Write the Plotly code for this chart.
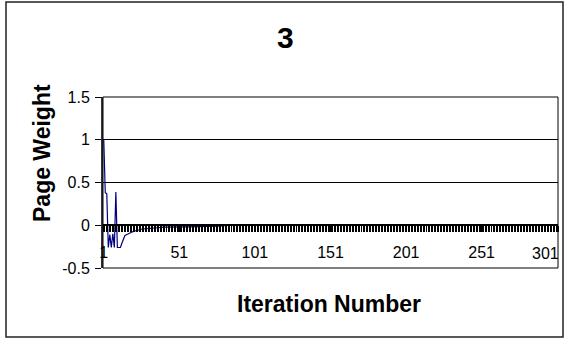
import plotly.graph_objects as go

# ---- data ----
iterations = list(range(1, 302))
page_weight = [
    1.0, 0.38, 0.37, -0.26, -0.11, -0.26, -0.10, -0.26, 0.39, -0.26,
    -0.26, -0.26, -0.21, -0.16, -0.12, -0.11, -0.10, -0.09, -0.083, -0.077,
    -0.07, -0.064, -0.058, -0.054, -0.05, -0.047, -0.044, -0.042, -0.04, -0.038,
    -0.036, -0.034, -0.032, -0.031, -0.03, -0.028, -0.027, -0.026, -0.025, -0.024,
    -0.023, -0.023, -0.022, -0.022, -0.021, -0.021, -0.02, -0.02, -0.02, -0.02,
    -0.019, -0.019, -0.019, -0.018, -0.018, -0.018, -0.018, -0.017, -0.017, -0.017,
    -0.017, -0.016, -0.016, -0.016, -0.016, -0.016, -0.015, -0.015, -0.015, -0.015,
    -0.015, -0.015, -0.014, -0.014, -0.014, -0.013, -0.01, -0.008, -0.006, -0.005,
    -0.004, -0.003, -0.002, -0.001, -0.001, 0.0, 0.0, 0.0, 0.0, 0.0,
    0.0, 0.0, 0.0, 0.0, 0.0, 0.0, 0.0, 0.0, 0.0, 0.0,
    0.0, 0.0, 0.0, 0.0, 0.0, 0.0, 0.0, 0.0, 0.0, 0.0,
    0.0, 0.0, 0.0, 0.0, 0.0, 0.0, 0.0, 0.0, 0.0, 0.0,
    0.0, 0.0, 0.0, 0.0, 0.0, 0.0, 0.0, 0.0, 0.0, 0.0,
    0.0, 0.0, 0.0, 0.0, 0.0, 0.0, 0.0, 0.0, 0.0, 0.0,
    0.0, 0.0, 0.0, 0.0, 0.0, 0.0, 0.0, 0.0, 0.0, 0.0,
    0.0, 0.0, 0.0, 0.0, 0.0, 0.0, 0.0, 0.0, 0.0, 0.0,
    0.0, 0.0, 0.0, 0.0, 0.0, 0.0, 0.0, 0.0, 0.0, 0.0,
    0.0, 0.0, 0.0, 0.0, 0.0, 0.0, 0.0, 0.0, 0.0, 0.0,
    0.0, 0.0, 0.0, 0.0, 0.0, 0.0, 0.0, 0.0, 0.0, 0.0,
    0.0, 0.0, 0.0, 0.0, 0.0, 0.0, 0.0, 0.0, 0.0, 0.0,
    0.0, 0.0, 0.0, 0.0, 0.0, 0.0, 0.0, 0.0, 0.0, 0.0,
    0.0, 0.0, 0.0, 0.0, 0.0, 0.0, 0.0, 0.0, 0.0, 0.0,
    0.0, 0.0, 0.0, 0.0, 0.0, 0.0, 0.0, 0.0, 0.0, 0.0,
    0.0, 0.0, 0.0, 0.0, 0.0, 0.0, 0.0, 0.0, 0.0, 0.0,
    0.0, 0.0, 0.0, 0.0, 0.0, 0.0, 0.0, 0.0, 0.0, 0.0,
    0.0, 0.0, 0.0, 0.0, 0.0, 0.0, 0.0, 0.0, 0.0, 0.0,
    0.0, 0.0, 0.0, 0.0, 0.0, 0.0, 0.0, 0.0, 0.0, 0.0,
    0.0, 0.0, 0.0, 0.0, 0.0, 0.0, 0.0, 0.0, 0.0, 0.0,
    0.0, 0.0, 0.0, 0.0, 0.0, 0.0, 0.0, 0.0, 0.0, 0.0,
    0.0, 0.0, 0.0, 0.0, 0.0, 0.0, 0.0, 0.0, 0.0, 0.0,
    0.0,
]
x_tick_vals = [1, 51, 101, 151, 201, 251, 301]
x_tick_text = ["1", "51", "101", "151", "201", "251", "301"]
y_tick_vals = [-0.5, 0, 0.5, 1, 1.5]
y_tick_text = ["-0.5", "0", "0.5", "1", "1.5"]
title_text = "3"
x_title = "Iteration Number"
y_title = "Page Weight"

# ---- layout geometry (pixels) ----
W, H = 568, 339
ML, MR, MT, MB = 103, 10, 97, 71
PW, PH = W - ML - MR, H - MT - MB
FONT = "Liberation Sans, Arial, sans-serif"


def px(xp):
    return (xp - ML) / PW


def py(yp):
    return (H - MB - yp) / PH


# the last category label is pulled inside the chart frame (as the reference does)
axis_labels = x_tick_text[:-1] + [""]
last_label = x_tick_text[-1]
last_val = x_tick_vals[-1]

fig = go.Figure()
fig.add_trace(go.Scatter(
    x=iterations, y=page_weight, mode="lines",
    line=dict(color="#000080", width=1.2),
    hoverinfo="skip", showlegend=False,
))

fig.update_layout(
    width=W, height=H,
    margin=dict(l=ML, r=MR, t=MT, b=MB, autoexpand=False),
    paper_bgcolor="white", plot_bgcolor="white",
    font=dict(family=FONT, size=16, color="black"),
    showlegend=False,
    xaxis=dict(
        range=[0.5, 301.5], anchor="free", position=0.25,
        showgrid=False, zeroline=False,
        showline=True, linecolor="black", linewidth=1.5,
        tickmode="array", tickvals=x_tick_vals, ticktext=axis_labels,
        ticks="outside", ticklen=6, tickwidth=1, tickcolor="black",
        ticklabelstandoff=7, ticklabeloverflow="allow",
        tickfont=dict(family=FONT, size=16, color="black"),
        minor=dict(ticks="outside", ticklen=6, tickwidth=1, tickcolor="black",
                   tick0=0.5, dtick=1, showgrid=False),
    ),
    yaxis=dict(
        range=[-0.5, 1.5],
        tickmode="array", tickvals=y_tick_vals, ticktext=y_tick_text,
        showgrid=True, gridcolor="black", gridwidth=1,
        zeroline=False,
        showline=True, linecolor="#333333", linewidth=2,
        ticks="outside", ticklen=6, tickwidth=1, tickcolor="black",
        ticklabelstandoff=2,
        tickfont=dict(family=FONT, size=16, color="black"),
    ),
    shapes=[
        dict(type="rect", xref="paper", yref="paper", x0=0, x1=1, y0=0, y1=1,
             line=dict(color="black", width=1), layer="above"),
        dict(type="rect", xref="paper", yref="paper",
             x0=px(6), x1=px(563), y0=py(337), y1=py(2),
             line=dict(color="#222222", width=1.5), layer="above"),
    ],
    annotations=[
        dict(text=last_label, x=last_val, xref="x", y=py(253), yref="paper",
             showarrow=False, xanchor="right", yanchor="middle", xshift=4,
             font=dict(family=FONT, size=16, color="black")),
        dict(text="<b>%s</b>" % title_text, x=px(285), y=py(38),
             xref="paper", yref="paper", showarrow=False,
             xanchor="center", yanchor="middle",
             font=dict(family=FONT, size=30, color="black")),
        dict(text="<b>%s</b>" % x_title, x=px(329), y=py(304),
             xref="paper", yref="paper", showarrow=False,
             xanchor="center", yanchor="middle",
             font=dict(family=FONT, size=23, color="black")),
        dict(text="<b>%s</b>" % y_title, x=px(42), y=py(153),
             xref="paper", yref="paper", showarrow=False, textangle=-90,
             xanchor="center", yanchor="middle",
             font=dict(family=FONT, size=23, color="black")),
    ],
)

fig.write_html("out.html")
